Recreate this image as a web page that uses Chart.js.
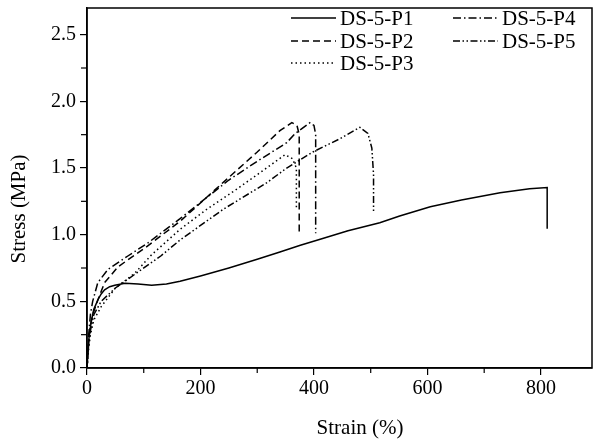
<!DOCTYPE html>
<html><head><meta charset="utf-8">
<script src="https://cdn.jsdelivr.net/npm/chart.js@4"></script>
<style>html,body{margin:0;padding:0;background:#fff}</style>
</head><body>
<canvas id="c" width="594" height="441"></canvas>
<script>
// courbes contrainte-déformation
const names = ["DS-5-P1","DS-5-P2","DS-5-P3","DS-5-P4","DS-5-P5"]

const p1Strain = [0,2,4,8,12,19,25,31,40,49,67,90,114,140,164,200,250,300,340,376,411,460,516,551,605,660,728,780,811,811]
const p1Stress = [0,0.15,0.25,0.36,0.44,0.51,0.555,0.586,0.61,0.62,0.636,0.63,0.62,0.63,0.65,0.69,0.75,0.815,0.87,0.92,0.965,1.03,1.09,1.14,1.21,1.26,1.315,1.345,1.353,1.044]

const p2Strain = [0,3,6,10,20,31,55,102,164,250,300,340,361,370,374,374]
const p2Stress = [0,0.2,0.32,0.4,0.52,0.64,0.76,0.9,1.1,1.43,1.62,1.78,1.84,1.82,1.75,1.0]

const p3Strain = [0,3,6,12,25,50,84,114,164,211,260,300,349,362,369,369]
const p3Stress = [0,0.15,0.25,0.36,0.46,0.6,0.71,0.85,1.04,1.19,1.33,1.45,1.6,1.57,1.5,1.2]

const p4Strain = [0,3,6,10,19,37,72,108,164,250,300,352,366,393,400,403,403]
const p4Stress = [0,0.25,0.4,0.5,0.64,0.74,0.84,0.94,1.12,1.41,1.55,1.69,1.755,1.84,1.82,1.75,1.01]

const p5Strain = [0,3,6,12,25,50,90,130,164,240,317,352,398,446,481,495,502,505,505]
const p5Stress = [0,0.18,0.28,0.4,0.5,0.6,0.72,0.84,0.96,1.19,1.39,1.5,1.62,1.72,1.805,1.76,1.65,1.45,1.17]

const xTicks = [0,200,400,600,800]
const yTicks = [0,0.5,1,1.5,2,2.5]

const dashes = [[],[7,4],[1.5,3],[8,3,1.5,3],[7,2.5,1.5,2.5,1.5,2.5]]
const series = [[p1Strain,p1Stress],[p2Strain,p2Stress],[p3Strain,p3Stress],[p4Strain,p4Stress],[p5Strain,p5Stress]]

const FONT = "Liberation Serif"

let datasets = series.map((s,i)=>({
label:names[i],
data:s[0].map((x,k)=>({x:x,y:s[1][k]})),
borderColor:"#000",
borderWidth:1.5,
borderDash:dashes[i],
pointRadius:0,
fill:false,
tension:0
}))

// cadre + petites graduations + titres des axes
const frame = {
id:"frame",
afterDraw(chart){
const c = chart.ctx, a = chart.chartArea
const xs = chart.scales.x, ys = chart.scales.y
c.save()
c.strokeStyle="#000"
c.lineWidth=1.5
c.strokeRect(a.left,a.top,a.right-a.left,a.bottom-a.top)
c.lineWidth=1.2
;[100,300,500,700].forEach(v=>{
let px = xs.getPixelForValue(v)
c.beginPath();c.moveTo(px,a.bottom);c.lineTo(px,a.bottom+5);c.stroke()
})
;[0.25,0.75,1.25,1.75,2.25].forEach(v=>{
let py = ys.getPixelForValue(v)
c.beginPath();c.moveTo(a.left,py);c.lineTo(a.left-6,py);c.stroke()
})
c.fillStyle="#000"
c.font="21px '"+FONT+"'"
c.textAlign="center"
c.textBaseline="middle"
c.fillText("Strain (%)",360,428)
c.translate(19,209)
c.rotate(-Math.PI/2)
c.fillText("Stress (MPa)",0,0)
c.restore()
}
}

// légende sur deux colonnes
const legend2 = {
id:"legend2",
afterDraw(chart){
const c = chart.ctx
const pos = [[291,18],[291,41],[291,63],[453,18],[453,41]]
c.save()
c.font = "21px '"+FONT+"'"
c.fillStyle="#000"
c.textBaseline="middle"
names.forEach((n,i)=>{
let [x,y] = pos[i]
c.strokeStyle="#000"
c.lineWidth=1.5
c.setLineDash(dashes[i])
c.beginPath();c.moveTo(x,y);c.lineTo(x+45,y);c.stroke()
c.setLineDash([])
c.fillText(n,x+49,y+1)
})
c.restore()
}
}

new Chart(document.getElementById("c"),{
type:"line",
data:{datasets:datasets},
options:{
responsive:false,
animation:false,
layout:{padding:{top:8,right:2,left:0,bottom:0}},
plugins:{legend:{display:false},tooltip:{enabled:false}},
scales:{
x:{
type:"linear",min:0,max:890,
afterFit(s){s.height=73;s.paddingLeft=0;s.paddingRight=0},
afterBuildTicks(s){s.ticks=xTicks.map(v=>({value:v}))},
ticks:{color:"#000",font:{family:FONT,size:20},padding:2,maxRotation:0},
grid:{drawOnChartArea:false,drawTicks:true,tickLength:7,color:"#000",lineWidth:1.2},
border:{color:"#000",width:1.5}
},
y:{
min:0,max:2.7,
afterFit(s){s.width=87;s.paddingTop=0;s.paddingBottom=0},
afterBuildTicks(s){s.ticks=yTicks.map(v=>({value:v}))},
ticks:{color:"#000",font:{family:FONT,size:20},padding:4,callback:v=>v.toFixed(1)},
grid:{drawOnChartArea:false,drawTicks:true,tickLength:7,color:"#000",lineWidth:1.2},
border:{color:"#000",width:1.5}
}
}
},
plugins:[frame,legend2]
})
</script>
</body></html>
